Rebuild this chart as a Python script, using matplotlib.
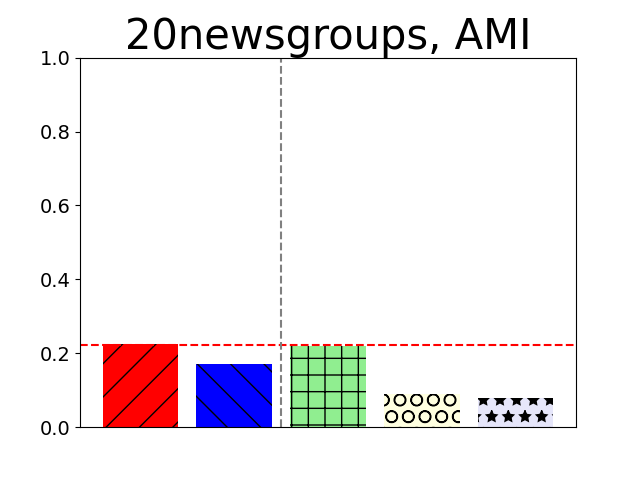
import matplotlib.pyplot as plt

# AMI scores per method
methods = ['m1', 'm2', 'm3', 'm4', 'm5']
scores = [0.224, 0.171, 0.221, 0.089, 0.080]
colors = ['red', 'blue', 'lightgreen', 'lightyellow', 'lavender']
hatches = ['/', '\\', '+', 'O', '*']
baseline = 0.222

fig, ax = plt.subplots(figsize=(6.4, 4.8), dpi=100)

x = range(len(methods))
bars = ax.bar(x, scores, color=colors)
for b, h in zip(bars, hatches):
    b.set_hatch(h)

ax.axhline(baseline, color='red', linestyle='--')
ax.axvline(1.5, color='gray', linestyle='--')

ax.set_ylim(0, 1)
ax.set_xticks([])
ax.tick_params(axis='y', labelsize=14)
ax.set_title('20newsgroups, AMI', fontsize=30)

plt.savefig('out.png')
